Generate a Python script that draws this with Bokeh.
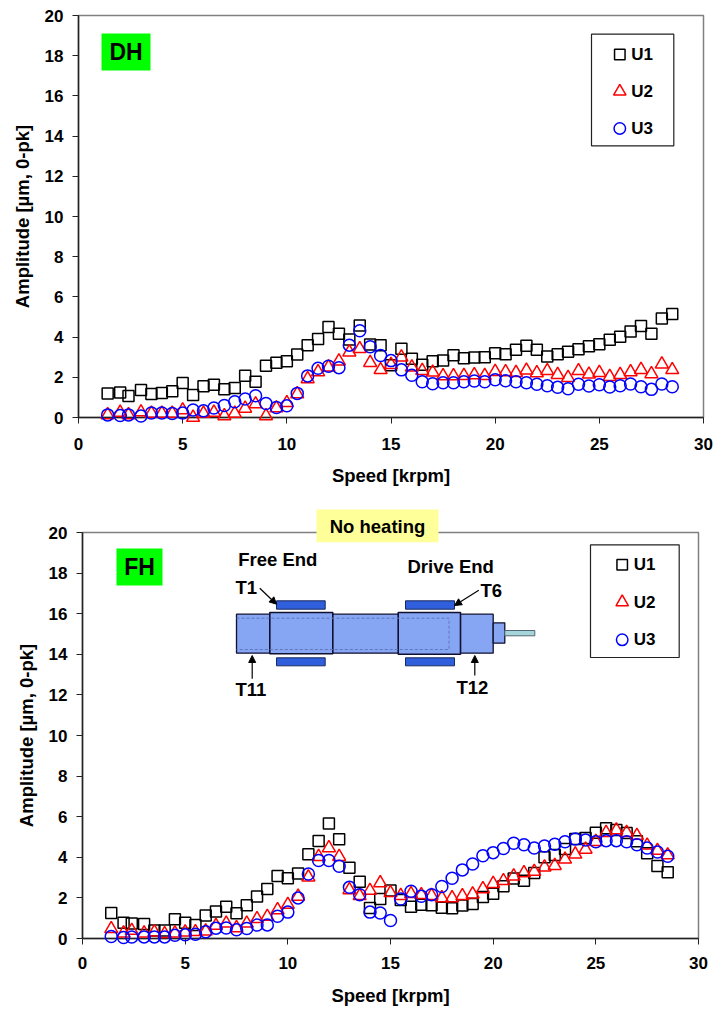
from bokeh.plotting import figure
from bokeh.layouts import column
from bokeh.models import Range1d, FixedTicker, Label, Arrow, NormalHead
from bokeh.core.properties import value
from bokeh.embed import file_html
from bokeh.resources import INLINE

speed = [1.4, 2.0, 2.4, 3.0, 3.5, 4.0, 4.5, 5.0, 5.5, 6.0, 6.5, 7.0, 7.5, 8.0, 8.5, 9.0, 9.5, 10.0,
         10.5, 11.0, 11.5, 12.0, 12.5, 13.0, 13.5, 14.0, 14.5, 15.0, 15.5, 16.0, 16.5, 17.0, 17.5,
         18.0, 18.5, 19.0, 19.5, 20.0, 20.5, 21.0, 21.5, 22.0, 22.5, 23.0, 23.5, 24.0, 24.5, 25.0,
         25.5, 26.0, 26.5, 27.0, 27.5, 28.0, 28.5]

dh_u1 = [1.20, 1.25, 1.07, 1.37, 1.17, 1.22, 1.30, 1.72, 1.12, 1.55, 1.63, 1.40, 1.47, 2.08, 1.78, 2.58, 2.73, 2.80,
         3.13, 3.60, 3.90, 4.50, 4.17, 3.88, 4.58, 3.63, 3.60, 2.60, 3.42, 2.92, 2.63, 2.80, 2.83,
         3.10, 2.95, 2.98, 3.00, 3.20, 3.15, 3.37, 3.57, 3.37, 3.03, 3.15, 3.27, 3.40, 3.55, 3.65,
         3.87, 4.02, 4.28, 4.55, 4.17, 4.93, 5.15]
dh_u2 = [0.13, 0.25, 0.13, 0.27, 0.20, 0.20, 0.20, 0.37, 0.00, 0.20, 0.25, 0.08, 0.20, 0.45, 0.67, 0.08, 0.47, 0.73,
         1.17, 1.92, 2.27, 2.50, 2.80, 3.25, 3.42, 2.73, 2.37, 2.63, 3.00, 2.50, 2.33, 2.25, 2.07,
         2.07, 2.08, 2.12, 2.08, 2.28, 2.27, 2.23, 2.35, 2.22, 2.32, 2.13, 1.98, 2.32, 2.15, 2.23,
         2.03, 2.13, 2.27, 2.38, 2.17, 2.65, 2.37]
dh_u3 = [0.13, 0.10, 0.13, 0.07, 0.22, 0.22, 0.20, 0.22, 0.37, 0.33, 0.47, 0.60, 0.78, 0.92, 1.08, 0.70, 0.50, 0.58,
         1.20, 2.07, 2.45, 2.55, 2.48, 3.60, 4.32, 3.52, 3.08, 2.83, 2.37, 2.10, 1.78, 1.68, 1.73,
         1.73, 1.78, 1.82, 1.78, 1.88, 1.83, 1.78, 1.73, 1.65, 1.58, 1.50, 1.43, 1.65, 1.57, 1.63,
         1.52, 1.58, 1.67, 1.53, 1.40, 1.67, 1.53]

fh_u1 = [1.26, 0.77, 0.74, 0.72, 0.39, 0.39, 0.95, 0.77, 0.66, 1.13, 1.33, 1.57, 1.25, 1.64, 2.07, 2.44, 3.08, 2.97,
         3.20, 4.15, 4.80, 5.67, 4.89, 3.49, 2.80, 1.50, 1.95, 2.36, 1.90, 1.56, 1.66, 1.64, 1.52,
         1.49, 1.62, 1.70, 2.05, 2.21, 2.57, 2.95, 2.84, 3.23, 4.00, 4.11, 4.41, 4.90, 4.95, 5.21,
         5.43, 5.34, 5.20, 4.79, 4.20, 3.57, 3.26]
fh_u2 = [0.48, 0.26, 0.39, 0.26, 0.31, 0.23, 0.26, 0.31, 0.33, 0.36, 0.64, 0.75, 0.52, 0.75, 0.97, 1.08, 1.41, 1.67,
         2.07, 3.02, 4.03, 4.46, 4.03, 2.39, 2.10, 2.36, 2.74, 2.25, 2.11, 2.20, 2.15, 2.11, 2.00,
         2.00, 2.10, 2.18, 2.44, 2.70, 2.84, 3.07, 3.23, 3.30, 3.51, 3.59, 3.90, 4.15, 4.39, 4.77,
         5.21, 5.34, 5.21, 5.07, 4.59, 4.33, 4.11]
fh_u3 = [0.10, 0.05, 0.07, 0.08, 0.08, 0.08, 0.16, 0.18, 0.21, 0.33, 0.51, 0.52, 0.43, 0.49, 0.66, 0.67, 1.10, 1.30,
         2.00, 3.18, 3.84, 3.84, 3.56, 2.52, 2.16, 1.30, 1.26, 0.89, 1.95, 2.33, 2.08, 2.16, 2.56,
         2.97, 3.38, 3.67, 4.08, 4.23, 4.43, 4.69, 4.62, 4.46, 4.56, 4.64, 4.77, 4.90, 4.85, 4.77,
         4.82, 4.82, 4.77, 4.62, 4.46, 4.26, 4.05]

x_ticks = [0, 5, 10, 15, 20, 25, 30]
y_ticks = [0, 2, 4, 6, 8, 10, 12, 14, 16, 18, 20]
x_title = "Speed [krpm]"
y_title = "Amplitude [µm, 0-pk]"
series_names = ["U1", "U2", "U3"]

FONT = "Liberation Sans"
BLACK, RED, BLUE = "#000000", "#ff0000", "#0000ff"
MARK = {"U1": ("square", BLACK, 11), "U2": ("triangle", RED, 13), "U3": ("circle", BLUE, 12)}


def make_fig(height, left, right, top, bottom, tick_standoff, title_standoff):
    p = figure(width=714, height=height, output_backend="svg", toolbar_location=None,
               x_range=Range1d(0, 30), y_range=Range1d(0, 20),
               min_border_left=left, min_border_right=right,
               min_border_top=top, min_border_bottom=bottom)
    p.frame_align = False
    p.grid.visible = False
    p.outline_line_color = "#808080"
    p.outline_line_width = 1.5
    for ax, ticks in ((p.xaxis[0], x_ticks), (p.yaxis[0], y_ticks)):
        ax.ticker = FixedTicker(ticks=ticks)
        ax.minor_tick_line_color = None
        ax.major_tick_out = 6
        ax.major_tick_in = 0
        ax.axis_line_color = "#222222"
        ax.axis_line_width = 1.5
        ax.major_tick_line_color = "#222222"
        ax.major_tick_line_width = 1
        ax.major_label_text_font = FONT
        ax.major_label_text_font_style = "bold"
        ax.major_label_text_font_size = "17px"
        ax.major_label_text_color = BLACK
        ax.axis_label_text_font = FONT
        ax.axis_label_text_font_style = "bold"
        ax.axis_label_text_font_size = "18.5px"
        ax.axis_label_text_color = BLACK
    p.xaxis[0].axis_label = x_title
    p.yaxis[0].axis_label = y_title
    p.xaxis[0].major_label_standoff = tick_standoff
    p.yaxis[0].major_label_standoff = 9
    p.xaxis[0].axis_label_standoff = title_standoff
    p.yaxis[0].axis_label_standoff = 9
    return p


def plot_series(p, u1, u2, u3):
    for name, vals in zip(series_names, (u1, u2, u3)):
        marker, col, size = MARK[name]
        p.scatter(speed, vals, marker=marker, size=size, line_color=col, line_width=1.5,
                  fill_alpha=0, level="overlay")


def put_text(p, x, y, text, size, align="left"):
    p.text([x], [y], text=[text], text_font=value(FONT), text_font_style="bold",
           text_font_size=value(size), text_color=BLACK, text_align=align,
           text_baseline="middle", level="overlay")


def mapper(left, right, top, bottom):
    fx = lambda px: (px - left) / (right - left) * 30
    fy = lambda py: (bottom - py) / (bottom - top) * 20
    return fx, fy


def box(p, fx, fy, x0, x1, y0, y1, fill=None, line=None, width=1.0):
    p.quad(left=[fx(x0)], right=[fx(x1)], top=[fy(y0)], bottom=[fy(y1)],
           fill_color=fill, fill_alpha=1 if fill else 0,
           line_color=line, line_width=width, level="overlay")


def legend(p, fx, fy, x0, x1, y0, y1, mark_x, text_x, rows):
    box(p, fx, fy, x0, x1, y0, y1, fill="#ffffff", line="#222222", width=1.2)
    for name, row in zip(series_names, rows):
        marker, col, size = MARK[name]
        p.scatter([fx(mark_x)], [fy(row)], marker=marker, size=size - 0.5, line_color=col,
                  line_width=1.5, fill_alpha=0, level="overlay")
        put_text(p, fx(text_x), fy(row), name, "17px")


# ---------- top chart: DH ----------
p1 = make_fig(490, 78, 11, 15, 73, 14, 12)
plot_series(p1, dh_u1, dh_u2, dh_u3)
fx, fy = mapper(78, 703, 15, 417)
box(p1, fx, fy, 101, 150, 33, 70, fill="#00ff00")
put_text(p1, fx(125.5), fy(51), "DH", "23px", "center")
legend(p1, fx, fy, 591, 673.3, 33.7, 145.3, 619.3, 630.7, (54, 91, 128))

# ---------- bottom chart: FH ----------
p2 = make_fig(519, 82, 16, 42, 71, 12, 13)
plot_series(p2, fh_u1, fh_u2, fh_u3)
fx, fy = mapper(82, 698, 532, 938)
box(p2, fx, fy, 116, 162, 548, 585, fill="#00ff00")
put_text(p2, fx(139), fy(566.5), "FH", "23px", "center")
legend(p2, fx, fy, 590, 678.7, 544.3, 657, 621.7, 633.3, (564.3, 601.7, 639.3))

# title tag sitting on the frame's top edge
box(p2, fx, fy, 316, 438, 509, 541.7, fill="#ffff99")
put_text(p2, fx(377), fy(526), "No heating", "18.5px", "center")

# rotor sketch
BODY = "#86a5f2"
EDGE = "#101030"
PAD = "#2f5fdc"
box(p2, fx, fy, 236, 492.7, 613.7, 652.7, fill=BODY, line=EDGE, width=1.3)
box(p2, fx, fy, 269.3, 332.3, 612, 653.3, fill=BODY, line=EDGE, width=1.6)
box(p2, fx, fy, 397.7, 460, 612, 653.7, fill=BODY, line=EDGE, width=1.6)
box(p2, fx, fy, 492.7, 504.3, 622.3, 642.7, fill=BODY, line=EDGE, width=1.3)
box(p2, fx, fy, 504.3, 534.3, 630, 635.3, fill="#a5d4da", line="#556677", width=1)
for x0, x1 in ((276, 324.7), (405, 454)):
    for y0, y1 in ((600.3, 608.7), (657.3, 665.3)):
        box(p2, fx, fy, x0, x1, y0, y1, fill=PAD, line="#1a2a60", width=1)
p2.line([fx(236), fx(448.5), fx(448.5), fx(236)], [fy(617.7), fy(617.7), fy(649), fy(649)],
        line_color="#5f78c0", line_dash="3 2", line_width=1, level="overlay")

head = dict(size=7, fill_color=BLACK, line_color=BLACK, line_width=1)
for xa, ya, xb, yb in ((259.3, 587.7, 276, 603.7), (478.3, 589.7, 454, 605),
                       (251.7, 678.3, 251.7, 655), (474.3, 675, 474.3, 655)):
    p2.add_layout(Arrow(end=NormalHead(**head), x_start=fx(xa), y_start=fy(ya), x_end=fx(xb), y_end=fy(yb),
                        line_color=BLACK, line_width=1.2, level="overlay"))

put_text(p2, fx(237.7), fy(559), "Free End", "18.5px")
put_text(p2, fx(407), fy(566), "Drive End", "18.5px")
put_text(p2, fx(235), fy(587), "T1", "18.5px")
put_text(p2, fx(480), fy(590), "T6", "18.5px")
put_text(p2, fx(235), fy(689), "T11", "18.5px")
put_text(p2, fx(456), fy(687), "T12", "18.5px")

page = column(p1, p2, spacing=0)
open("out.html", "w").write(file_html(page, INLINE))
